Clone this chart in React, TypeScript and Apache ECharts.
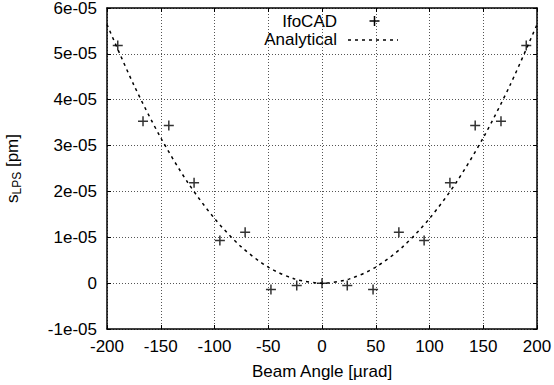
import React, { useEffect, useRef } from "react";
import * as echarts from "echarts";

// IfoCAD simulation points (beam angle in µrad, s_LPS in pm)
const ifoX = [-190, -166.5, -142.5, -119, -95, -71.5, -47.5, -23.5, 0, 23.5, 47.5, 71.5, 95, 119, 142.5, 166.5, 190];
const ifoY = [5.18e-5, 3.53e-5, 3.44e-5, 2.19e-5, 0.93e-5, 1.11e-5, -0.14e-5, -0.05e-5, 0, -0.05e-5, -0.14e-5, 1.11e-5, 0.93e-5, 2.19e-5, 3.44e-5, 3.53e-5, 5.18e-5];

// Analytical curve
const anaX = [-200, -175, -150, -125, -100, -75, -50, -25, 0, 25, 50, 75, 100, 125, 150, 175, 200];
const anaY = [5.64e-5, 4.32e-5, 3.17e-5, 2.2e-5, 1.41e-5, 0.79e-5, 0.35e-5, 0.088e-5, 0, 0.088e-5, 0.35e-5, 0.79e-5, 1.41e-5, 2.2e-5, 3.17e-5, 4.32e-5, 5.64e-5];

const xTicks = { min: -200, max: 200, interval: 50 };
const yTicks = { min: -1e-5, max: 6e-5, interval: 1e-5 };

const FONT = "Liberation Sans, Arial, Helvetica, sans-serif";
const PLUS = "path://M0,0.425H1V0.575H0Z M0.425,0H0.575V1H0.425Z";

function fmtY(v: number): string {
  if (Math.abs(v) < 1e-12) return "0";
  return v.toExponential(0).replace(/e([+-])(\d)$/, "e$10$2");
}

export default function App() {
  const ref = useRef<HTMLDivElement>(null);
  useEffect(() => {
    document.body.style.margin = "0";
    const chart = echarts.init(ref.current!, null, { renderer: "svg" });
    const gridLine = { show: true, lineStyle: { color: "#555", width: 1, type: [1, 2] as any } };
    const axisLine = { show: true, onZero: false, lineStyle: { color: "#000", width: 1.5 } };
    const tick = { show: true, inside: true, length: 4, lineStyle: { color: "#000", width: 1 } };
    chart.setOption({
      animation: false,
      backgroundColor: "#fff",
      textStyle: { fontFamily: FONT },
      grid: { left: 107, right: 17, top: 8, bottom: 56, show: false, containLabel: false, outerBoundsMode: "none" },
      xAxis: [
        {
          type: "value", ...xTicks,
          name: "Beam Angle [µrad]", nameLocation: "middle", nameGap: 34,
          nameTextStyle: { fontSize: 17, color: "#000", fontFamily: FONT },
          axisLine, axisTick: tick, splitLine: gridLine,
          axisLabel: { fontSize: 17, color: "#000", margin: 9, fontFamily: FONT },
        },
        {
          type: "value", ...xTicks, position: "top",
          axisLine, axisTick: tick, splitLine: { show: false }, axisLabel: { show: false },
        },
      ],
      yAxis: [
        {
          type: "value", ...yTicks,
          name: "{s|s}{sub|LPS}{s| [pm]}", nameLocation: "middle", nameGap: 84, nameRotate: 90,
          nameTextStyle: {
            color: "#000", fontFamily: FONT,
            rich: {
              s: { fontSize: 17, color: "#000", fontFamily: FONT, lineHeight: 22, verticalAlign: "middle" },
              sub: { fontSize: 12, color: "#000", fontFamily: FONT, lineHeight: 22, verticalAlign: "bottom" },
            },
          },
          axisLine, axisTick: tick, splitLine: gridLine,
          axisLabel: { fontSize: 17, color: "#000", margin: 10, fontFamily: FONT, formatter: fmtY },
        },
        {
          type: "value", ...yTicks, position: "right",
          axisLine, axisTick: tick, splitLine: { show: false }, axisLabel: { show: false },
        },
      ],
      series: [
        {
          name: "Analytical", type: "line", smooth: 0.3, showSymbol: false, symbol: "none",
          data: anaX.map((x, i) => [x, anaY[i]]),
          lineStyle: { color: "#000", width: 1.5, type: [3, 4] as any },
          z: 3,
        },
        {
          name: "IfoCAD", type: "scatter", symbol: PLUS, symbolSize: 10,
          data: ifoX.map((x, i) => [x, ifoY[i]]),
          itemStyle: { color: "#000" },
          z: 4,
        },
      ],
      graphic: [
        { type: "text", x: 337, y: 21.5, style: { text: "IfoCAD", fontSize: 17, fill: "#000", font: `17px ${FONT}`, align: "right", verticalAlign: "middle" } },
        { type: "text", x: 337, y: 39.5, style: { text: "Analytical", fontSize: 17, fill: "#000", font: `17px ${FONT}`, align: "right", verticalAlign: "middle" } },
        { type: "line", shape: { x1: 369.5, y1: 21, x2: 379.5, y2: 21 }, style: { stroke: "#000", lineWidth: 1.5 } },
        { type: "line", shape: { x1: 374.5, y1: 16, x2: 374.5, y2: 26 }, style: { stroke: "#000", lineWidth: 1.5 } },
        { type: "line", shape: { x1: 348, y1: 40, x2: 398, y2: 40 }, style: { stroke: "#000", lineWidth: 1.5, lineDash: [3, 4] } },
      ],
    });
    return () => chart.dispose();
  }, []);
  return <div ref={ref} style={{ width: 554, height: 385 }} />;
}
